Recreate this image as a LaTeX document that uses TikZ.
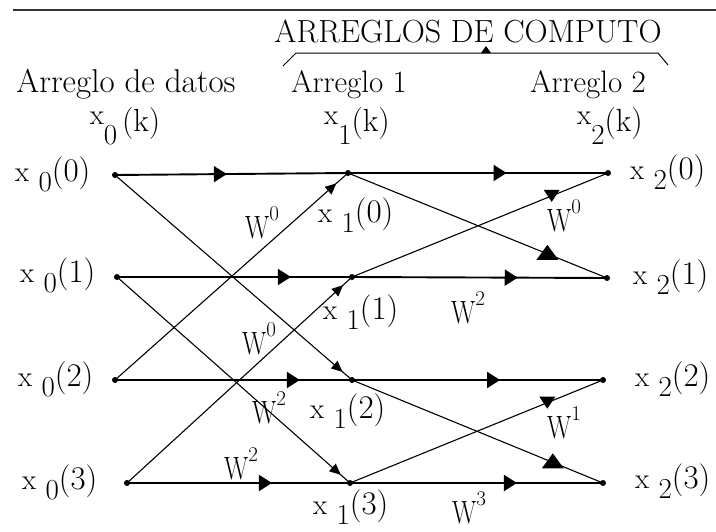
\documentclass[tikz,border=0pt]{standalone}
\usepackage{fontspec}
\usepackage{graphicx}
\usetikzlibrary{arrows.meta,decorations.markings}
\newcommand{\xrow}[2]{x\hspace{0.32em}\raisebox{-0.36em}{#1}{\fontsize{33}{34}\selectfont(#2)}}
\newcommand{\xhd}[2]{\raisebox{0.22em}{x}\raisebox{-0.45em}{#1}#2{\fontsize{32}{34}\selectfont(k)}}
\newcommand{\wl}[1]{\scalebox{0.9}[1.15]{W}\raisebox{0.62em}{\fontsize{21}{21}\selectfont #1}}
\begin{document}
\begin{tikzpicture}[x=1pt,y=-1pt,
  dot/.style={circle,fill=black,inner sep=0pt,minimum size=6pt},
  lab/.style={font=\fontsize{29}{30}\selectfont,inner sep=0pt,anchor=base west},
  hd/.style={font=\fontsize{31}{32}\selectfont,inner sep=0pt},
  kh/.style={font=\fontsize{29}{30}\selectfont,inner sep=0pt,anchor=base},
  wlab/.style={font=\fontsize{28}{30}\selectfont,inner sep=0pt,anchor=base west},
  hline/.style={line width=1.9pt},
  dline/.style={line width=1.1pt},
  harr/.style={decoration={markings,mark=at position #1 with {\arrow{Triangle[length=13pt,width=16pt]}}},postaction={decorate}},
  darr/.style={decoration={markings,mark=at position #1 with {\arrow{Triangle[length=11pt,width=10pt]}}},postaction={decorate}},
  uptri/.style={decoration={markings,mark=at position #1 with {\pgftransformresetnontranslations\fill (-11pt,-6pt) -- (11pt,-6pt) -- (0pt,9pt) -- cycle;}},postaction={decorate}},
  dntri/.style={decoration={markings,mark=at position #1 with {\pgftransformresetnontranslations\fill (-8pt,6pt) -- (8pt,6pt) -- (0pt,-6pt) -- cycle;}},postaction={decorate}}
]
\useasboundingbox (0,0) rectangle (716,531);

% top rule and brace
\draw[line width=2.5pt,black!80] (13,10) -- (716,10);
\draw[line width=1pt] (283,66) -- (296,53) -- (658,53) -- (668,65);
\fill (481,53) -- (491,53) -- (486,46) -- cycle;

% headers
\node[hd,font=\fontsize{32}{34}\selectfont] (title) at (468,31) {ARREGLOS DE COMPUTO};
\node[hd,anchor=base,font=\fontsize{33}{34}\selectfont] (hdat) at (126,92) {Arreglo de datos};
\node[hd,anchor=base] (hone) at (349,92) {Arreglo 1};
\node[hd,anchor=base] (htwo) at (588,92) {Arreglo 2};
\node[kh] (k0) at (125,131) {\xhd{0}{\,}};
\node[kh] (k1) at (357,131) {\xhd{1}{}};
\node[kh] (k2) at (610,131) {\xhd{2}{}};

% dots
\node[dot] (a0) at (115,175) {};
\node[dot] (a1) at (117,277) {};
\node[dot] (a2) at (115,380) {};
\node[dot] (a3) at (127,483) {};
\node[dot] (b0) at (348,173) {};
\node[dot] (b1) at (352,277) {};
\node[dot] (b2) at (352,380) {};
\node[dot] (b3) at (350,483) {};
\node[dot] (c0) at (608,173) {};
\node[dot] (c1) at (607,278) {};
\node[dot] (c2) at (603,380) {};
\node[dot] (c3) at (603,483) {};

% row labels
\node[lab] (la0) at (15,181) {\xrow{0}{0}};
\node[lab] (la1) at (20,282) {\xrow{0}{1}};
\node[lab] (la2) at (18,386) {\xrow{0}{2}};
\node[lab] (la3) at (22,489) {\xrow{0}{3}};
\node[lab] (lb0) at (318,222) {\xrow{1}{0}};
\node[lab] (lb1) at (323,319) {\xrow{1}{1}};
\node[lab] (lb2) at (310,418) {\xrow{1}{2}};
\node[lab] (lb3) at (313,514) {\xrow{1}{3}};
\node[lab] (lc0) at (630,179) {\xrow{2}{0}};
\node[lab] (lc1) at (633,284) {\xrow{2}{1}};
\node[lab] (lc2) at (635,386) {\xrow{2}{2}};
\node[lab] (lc3) at (635,488) {\xrow{2}{3}};

% stage 1
\draw[hline,harr=0.48] (a0.center) -- (b0.center);
\draw[hline,harr=0.74] (a1.center) -- (b1.center);
\draw[hline,harr=0.78] (a2.center) -- (b2.center);
\draw[hline,harr=0.65] (a3.center) -- (b3.center);
\draw[dline,darr=0.95] (a2.center) -- (b0.center);
\draw[dline,darr=0.96] (a3.center) -- (b1.center);
\draw[dline,darr=0.96] (a0.center) -- (b2.center);
\draw[dline,darr=0.96] (a1.center) -- (b3.center);

% stage 2
\draw[hline,harr=0.61] (b0.center) -- (c0.center);
\draw[hline,harr=0.65] (b1.center) -- (c1.center);
\draw[hline,harr=0.59] (b2.center) -- (c2.center);
\draw[hline,harr=0.66] (b3.center) -- (c3.center);
\draw[dline,uptri=0.77] (b0.center) -- (c1.center);
\draw[dline,dntri=0.78] (b1.center) -- (c0.center);
\draw[dline,uptri=0.80] (b2.center) -- (c3.center);
\draw[dline,dntri=0.78] (b3.center) -- (c2.center);

% twiddle factors
\node[wlab] (w1) at (245,238) {\wl{0}};
\node[wlab] (w2) at (242,354) {\wl{0}};
\node[wlab] (w3) at (252,423) {\wl{2}};
\node[wlab] (w4) at (224,479) {\wl{2}};
\node[wlab] (w5) at (547,231) {\wl{0}};
\node[wlab] (w6) at (451,323) {\wl{2}};
\node[wlab] (w7) at (547,438) {\wl{1}};
\node[wlab] (w8) at (452,523) {\wl{3}};
\end{tikzpicture}
\end{document}
